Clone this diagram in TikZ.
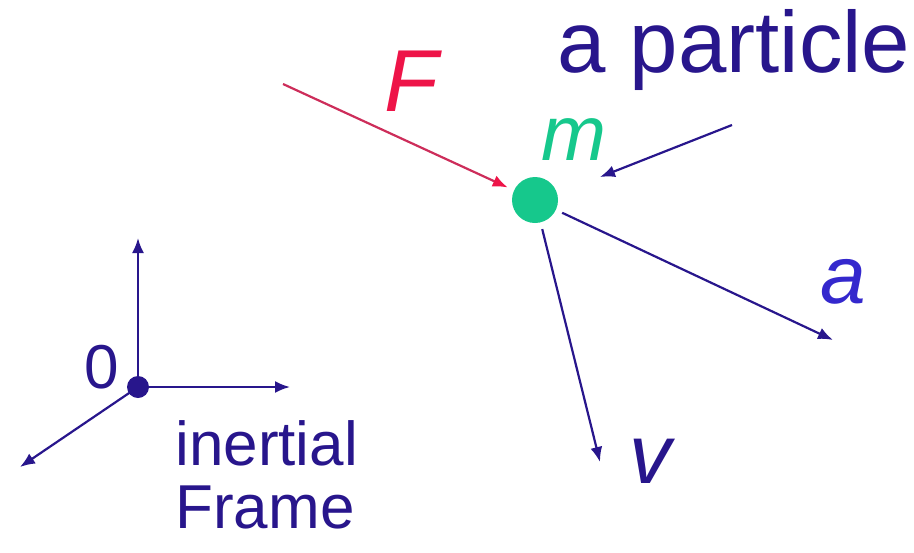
\documentclass[tikz,border=0pt]{standalone}
\usepackage{fontspec}
\setmainfont{Liberation Sans}
\usepackage{xcolor}
\definecolor{ptnavy}{RGB}{40,22,140}
\definecolor{ptblue}{RGB}{52,40,205}
\definecolor{ptgreen}{RGB}{22,200,140}
\definecolor{ptred}{RGB}{238,20,72}
\definecolor{ptline}{RGB}{205,45,90}
\usetikzlibrary{arrows.meta,positioning}

\begin{document}
\begin{tikzpicture}[
  x=0.5pt,y=-0.5pt,
  vec/.style={draw=ptnavy,line width=1.1pt,-{Latex[length=7.5pt,width=6pt]}},
  lbl/.style={inner sep=0pt,anchor=base west,text=ptnavy},
  big/.style={font=\fontsize{43.5}{48}\selectfont},
  mid/.style={font=\fontsize{31}{36}\selectfont}
]
  \useasboundingbox (0,0) rectangle (914,552);
  % the particle
  \node[circle,fill=ptgreen,minimum size=23pt,inner sep=0pt,outer sep=3.5pt] (p) at (535,200) {};
  \node[lbl,big] (ttl) at (557,72) {a particle};
  \node[lbl,text=ptgreen,font=\fontsize{39}{44}\selectfont\itshape] (m) at (541,160) {m};
  \node[lbl,text=ptred,font=\fontsize{44}{48}\selectfont\itshape] (F) at (384,111) {F};
  \node[lbl,text=ptblue,font=\fontsize{41}{46}\selectfont\itshape] (a) at (820,303) {a};
  \node[lbl,font=\fontsize{42}{48}\selectfont\itshape] (v) at (629,483) {v};
  \coordinate (Fs) at (283,84);
  \coordinate (ps) at (732,125);
  \coordinate (pe) at (600,177);
  \coordinate (ae) at (833,340);
  \coordinate (ve) at (600,462);
  \draw[vec,draw=ptline,-{Latex[length=7.5pt,width=6pt,color=ptred]}] (Fs) -- (p);
  \draw[vec] (ps) -- (pe);
  \draw[vec] (p) -- (ae);
  \draw[vec] (p) -- (ve);
  % inertial frame
  \node[circle,fill=ptnavy,minimum size=11pt,inner sep=0pt] (o) at (138,387) {};
  \coordinate (xe) at (290,387);
  \coordinate (ye) at (138,238);
  \coordinate (ze) at (20,467);
  \draw[vec] (o.center) -- (xe);
  \draw[vec] (o.center) -- (ye);
  \draw[vec] (o.center) -- (ze);
  \node[lbl,mid] (zero) at (84,388) {0};
  \node[lbl,mid] (in) at (175,465) {inertial};
  \node[lbl,mid] (fr) at (175,528) {Frame};
\end{tikzpicture}
\end{document}
